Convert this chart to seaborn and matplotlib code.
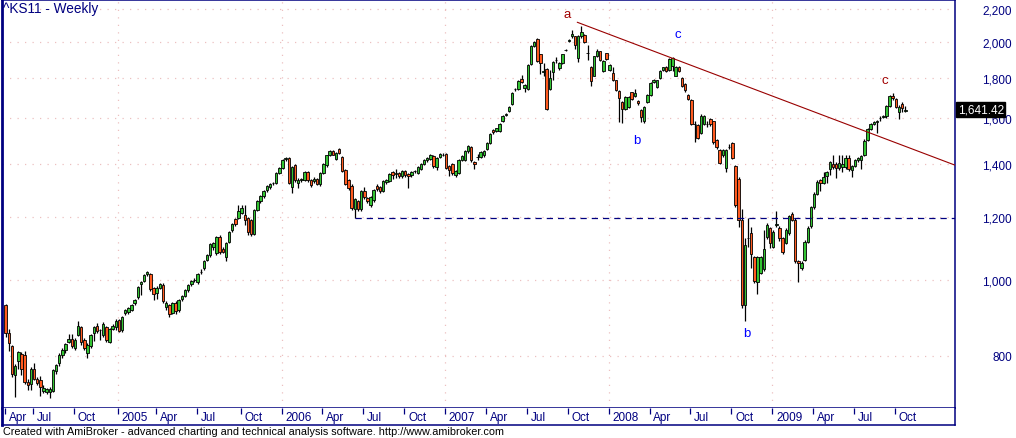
import numpy as np
import matplotlib
matplotlib.use("Agg")
import matplotlib.pyplot as plt
import matplotlib.transforms as mtransforms
from matplotlib.ticker import NullLocator, FixedLocator
import seaborn as sns

sns.set_theme(style="white")
plt.rcParams['font.family'] = ['Liberation Sans', 'DejaVu Sans']

# ---------------- weekly OHLC of ^KS11 (bar 0 = week ending 30 Apr 2004) ----------------
opens = [
    928, 855, 823, 757, 788, 805, 803, 741, 738, 770,
    748, 746, 722, 721, 721, 722, 765, 783, 803, 814,
    833, 840, 820, 851, 870, 838, 807, 824, 856, 874,
    864, 850, 870, 833, 866, 870, 888, 862, 906, 909,
    915, 933, 949, 986, 996, 1017, 1016, 975, 960, 976,
    985, 923, 928, 907, 934, 915, 944, 954, 969, 986,
    998, 992, 1021, 1033, 1059, 1073, 1100, 1079, 1131, 1094,
    1067, 1116, 1156, 1192, 1197, 1214, 1208, 1196, 1189, 1143,
    1226, 1256, 1275, 1297, 1309, 1324, 1326, 1364, 1384, 1420,
    1425, 1309, 1395, 1326, 1335, 1337, 1368, 1337, 1332, 1342,
    1320, 1364, 1395, 1436, 1453, 1423, 1462, 1429, 1378, 1337,
    1315, 1227, 1256, 1227, 1296, 1267, 1242, 1260, 1315, 1309,
    1294, 1328, 1332, 1367, 1359, 1364, 1351, 1372, 1361, 1358,
    1371, 1366, 1382, 1402, 1416, 1423, 1432, 1388, 1429, 1438,
    1441, 1393, 1400, 1355, 1364, 1416, 1418, 1453, 1472, 1408,
    1428, 1429, 1436, 1465, 1491, 1546, 1543, 1543, 1589, 1617,
    1637, 1668, 1741, 1745, 1795, 1750, 1745, 1876, 1978, 2016,
    1928, 1833, 1848, 1745, 1830, 1897, 1854, 1881, 1953, 2007,
    2032, 2032, 1909, 2032, 2038, 1936, 1859, 1813, 1917, 1945,
    1836, 1934, 1843, 1824, 1787, 1733, 1679, 1645, 1655, 1726,
    1707, 1684, 1640, 1589, 1679, 1712, 1779, 1754, 1802, 1840,
    1857, 1840, 1862, 1813, 1857, 1800, 1771, 1712, 1687, 1573,
    1569, 1535, 1576, 1572, 1599, 1586, 1502, 1458, 1436, 1384,
    1471, 1487, 1392, 1342, 1191, 929, 1128, 1145, 1067, 993,
    1020, 1032, 1131, 1161, 1101, 1173, 1163, 1128, 1113, 1145,
    1212, 1191, 1055, 1034, 1060, 1117, 1168, 1235, 1285, 1338,
    1325, 1352, 1380, 1400, 1400, 1383, 1387, 1387, 1424, 1377,
    1394, 1417, 1419, 1438, 1503, 1553, 1573, 1584, 1602, 1607,
    1610, 1658, 1707, 1691, 1632, 1671, 1633]

highs = [
    932, 865, 826, 781, 811, 810, 811, 747, 775, 784,
    752, 755, 735, 729, 730, 770, 781, 806, 818, 831,
    852, 852, 842, 886, 874, 842, 830, 853, 873, 880,
    866, 884, 873, 869, 877, 890, 892, 899, 918, 922,
    931, 944, 982, 997, 1016, 1025, 1020, 979, 980, 990,
    989, 938, 932, 937, 938, 946, 955, 972, 988, 999,
    1005, 1019, 1030, 1060, 1076, 1113, 1117, 1135, 1137, 1098,
    1117, 1153, 1179, 1196, 1242, 1242, 1242, 1200, 1193, 1230,
    1260, 1280, 1298, 1318, 1324, 1330, 1368, 1388, 1420, 1428,
    1428, 1392, 1400, 1345, 1346, 1372, 1372, 1342, 1348, 1346,
    1368, 1406, 1440, 1460, 1458, 1451, 1466, 1433, 1382, 1341,
    1320, 1268, 1260, 1300, 1309, 1272, 1275, 1303, 1320, 1313,
    1336, 1340, 1363, 1371, 1380, 1368, 1378, 1376, 1366, 1372,
    1378, 1392, 1406, 1422, 1429, 1443, 1436, 1429, 1447, 1446,
    1446, 1398, 1404, 1378, 1420, 1436, 1457, 1480, 1476, 1412,
    1442, 1454, 1457, 1494, 1532, 1550, 1558, 1578, 1616, 1626,
    1660, 1728, 1750, 1788, 1815, 1768, 1877, 1980, 2005, 2020,
    1933, 1880, 1852, 1840, 1889, 1912, 1885, 1932, 1960, 2016,
    2070, 2036, 2040, 2092, 2045, 1980, 1864, 1921, 1960, 1950,
    1898, 1938, 1875, 1857, 1792, 1738, 1684, 1706, 1706, 1730,
    1745, 1690, 1645, 1660, 1716, 1779, 1795, 1791, 1840, 1861,
    1862, 1907, 1913, 1864, 1862, 1805, 1776, 1718, 1692, 1590,
    1575, 1622, 1614, 1590, 1604, 1590, 1506, 1462, 1465, 1465,
    1486, 1492, 1397, 1347, 1227, 1130, 1197, 1165, 1072, 1072,
    1072, 1157, 1178, 1166, 1155, 1221, 1168, 1133, 1162, 1208,
    1218, 1196, 1058, 1054, 1122, 1168, 1240, 1290, 1336, 1342,
    1367, 1372, 1412, 1436, 1410, 1436, 1436, 1436, 1440, 1396,
    1421, 1430, 1440, 1505, 1558, 1578, 1588, 1592, 1612, 1614,
    1665, 1712, 1722, 1697, 1662, 1678, 1660]

lows = [
    846, 812, 752, 709, 770, 757, 737, 725, 724, 745,
    735, 712, 718, 716, 707, 720, 758, 778, 795, 808,
    830, 820, 815, 848, 825, 815, 795, 820, 837, 855,
    838, 846, 833, 830, 862, 864, 858, 858, 902, 905,
    911, 928, 946, 955, 992, 1010, 968, 941, 945, 972,
    933, 915, 897, 903, 905, 910, 940, 950, 965, 982,
    994, 988, 1017, 1028, 1054, 1069, 1090, 1074, 1078, 1080,
    1057, 1112, 1150, 1170, 1193, 1209, 1172, 1140, 1136, 1138,
    1222, 1250, 1270, 1290, 1304, 1318, 1322, 1360, 1380, 1414,
    1320, 1288, 1330, 1306, 1330, 1332, 1330, 1310, 1326, 1316,
    1315, 1360, 1390, 1432, 1436, 1418, 1442, 1370, 1318, 1300,
    1226, 1195, 1220, 1222, 1266, 1250, 1236, 1255, 1296, 1288,
    1290, 1322, 1328, 1340, 1345, 1345, 1346, 1348, 1306, 1350,
    1364, 1362, 1378, 1398, 1410, 1418, 1386, 1377, 1424, 1432,
    1380, 1351, 1358, 1350, 1360, 1412, 1414, 1448, 1410, 1382,
    1418, 1424, 1430, 1460, 1486, 1530, 1538, 1538, 1584, 1612,
    1632, 1662, 1734, 1738, 1772, 1730, 1740, 1870, 1970, 1888,
    1822, 1810, 1638, 1740, 1790, 1880, 1840, 1875, 1946, 2000,
    2025, 1960, 1888, 2025, 1995, 1898, 1759, 1808, 1912, 1892,
    1830, 1898, 1838, 1786, 1734, 1581, 1578, 1640, 1650, 1686,
    1702, 1665, 1585, 1580, 1674, 1706, 1774, 1748, 1797, 1835,
    1830, 1835, 1835, 1808, 1830, 1752, 1730, 1686, 1570, 1494,
    1505, 1530, 1570, 1560, 1566, 1486, 1464, 1400, 1430, 1368,
    1462, 1420, 1236, 1165, 920, 885, 1100, 1034, 990, 958,
    1015, 1026, 1126, 1095, 1095, 1165, 1120, 1078, 1108, 1140,
    1186, 1050, 992, 1028, 1055, 1112, 1163, 1230, 1280, 1295,
    1320, 1325, 1355, 1380, 1345, 1378, 1370, 1380, 1372, 1348,
    1388, 1410, 1382, 1433, 1498, 1548, 1568, 1534, 1590, 1600,
    1600, 1652, 1690, 1648, 1599, 1630, 1628]

closes = [
    855, 830, 760, 778, 809, 771, 741, 736, 770, 748,
    740, 730, 728, 726, 726, 767, 779, 803, 815, 828,
    841, 823, 838, 874, 833, 820, 826, 851, 870, 860,
    862, 878, 838, 866, 874, 887, 861, 896, 914, 919,
    928, 941, 979, 994, 1013, 1021, 973, 958, 976, 987,
    939, 934, 903, 934, 912, 943, 952, 969, 985, 996,
    1000, 1016, 1023, 1057, 1073, 1110, 1113, 1131, 1083, 1085,
    1113, 1149, 1175, 1175, 1221, 1231, 1191, 1148, 1141, 1226,
    1256, 1276, 1294, 1313, 1320, 1326, 1364, 1384, 1416, 1425,
    1326, 1388, 1335, 1337, 1341, 1368, 1335, 1319, 1342, 1322,
    1364, 1402, 1436, 1455, 1440, 1447, 1447, 1374, 1322, 1306,
    1232, 1263, 1227, 1296, 1271, 1256, 1271, 1299, 1302, 1294,
    1332, 1335, 1359, 1355, 1364, 1352, 1374, 1355, 1352, 1368,
    1373, 1388, 1402, 1418, 1425, 1439, 1392, 1425, 1443, 1440,
    1385, 1377, 1364, 1374, 1416, 1432, 1453, 1475, 1416, 1402,
    1430, 1450, 1453, 1490, 1528, 1536, 1554, 1574, 1612, 1619,
    1655, 1724, 1743, 1783, 1778, 1762, 1872, 1974, 1997, 1894,
    1881, 1835, 1643, 1800, 1885, 1899, 1880, 1928, 1955, 2009,
    2047, 1980, 2032, 2061, 2002, 1938, 1783, 1917, 1945, 1898,
    1894, 1903, 1870, 1791, 1740, 1700, 1643, 1702, 1702, 1691,
    1724, 1672, 1606, 1655, 1712, 1775, 1791, 1787, 1836, 1857,
    1836, 1903, 1909, 1860, 1836, 1759, 1736, 1691, 1576, 1575,
    1513, 1610, 1610, 1574, 1573, 1492, 1470, 1406, 1461, 1461,
    1473, 1425, 1242, 1188, 929, 1105, 1130, 1076, 997, 1067,
    1067, 1094, 1172, 1111, 1150, 1175, 1128, 1083, 1157, 1203,
    1191, 1055, 1050, 1049, 1117, 1163, 1235, 1284, 1330, 1327,
    1348, 1367, 1407, 1387, 1383, 1404, 1400, 1426, 1380, 1392,
    1417, 1425, 1435, 1500, 1553, 1573, 1583, 1586, 1604, 1609,
    1660, 1707, 1696, 1655, 1655, 1651, 1641.42]

# x-axis (bar index of first weekly bar of each labelled month)
month_ticks = [0, 9, 22, 36, 48, 61, 75, 88, 101, 114, 127, 140,
               153, 166, 179, 192, 205, 218, 231, 244, 257, 270, 283]
month_labels = ["Apr", "Jul", "Oct", "2005", "Apr", "Jul", "Oct", "2006",
                "Apr", "Jul", "Oct", "2007", "Apr", "Jul", "Oct", "2008",
                "Apr", "Jul", "Oct", "2009", "Apr", "Jul", "Oct"]
year_ticks = [36, 88, 140, 192, 244]
price_levels = [800, 1000, 1200, 1400, 1600, 1800, 2000, 2200]

# drawn studies
trend_x = [181.7, 301.8]
trend_y = [2118, 1396]
support_x = [111, 301.8]
support_y = [1198, 1198]
wave_text = ["a", "c", "b", "b", "c"]
wave_x = [178.5, 213.8, 200.7, 235.7, 279.6]
wave_y = [2168, 2045, 1502, 855, 1789]
wave_col = ["#a00000", "#0000ff", "#0000ff", "#0000ff", "#a00000"]

# ---------------- figure ----------------
W, H = 1016, 439
NAVY = "#000080"
UP, DOWN = "#33c433", "#ff5a1f"

n = min(len(opens), len(highs), len(lows), len(closes))
o = np.array(opens[:n], float)
h = np.array(highs[:n], float)
l = np.array(lows[:n], float)
c = np.array(closes[:n], float)
idx = np.arange(n)

fig = plt.figure(figsize=(W / 100, H / 100), dpi=100)
fig.patch.set_facecolor("white")
ax = fig.add_axes([2 / W, (H - 409) / H, 953 / W, 408 / H])
axd = fig.add_axes([2 / W, (H - 426) / H, 953 / W, 17 / H])

xl = (-1.18, 301.8)
ax.set_yscale("log")
ax.set_xlim(*xl)
ax.set_ylim(687.4, 2260)

# dotted grid
for p in price_levels:
    ax.axhline(p, color="#ecc0c0", lw=0.9, ls=(0, (1, 5)), zorder=0)
for t in year_ticks:
    ax.axvline(t - 0.3, color="#ecc0c0", lw=0.9, ls=(0, (1, 5)), zorder=0)

# candles
ax.vlines(idx, l, h, color="black", lw=0.9, zorder=2)
body_h = np.maximum(np.abs(c - o), 0.8)
colors = np.where(c >= o, UP, DOWN)
ax.bar(idx, body_h, bottom=np.minimum(o, c), width=0.78, color=colors,
       edgecolor="black", linewidth=0.6, zorder=3)

# trend line and support line
sns.lineplot(x=trend_x, y=trend_y, ax=ax, color="#990000", lw=0.8, zorder=4)
ax.plot(support_x, support_y, color=NAVY, lw=0.9, ls=(0, (5, 4)), zorder=4)

for s, x, y, col in zip(wave_text, wave_x, wave_y, wave_col):
    ax.text(x, y, s, color=col, fontsize=9.5, ha="center", va="center", zorder=5)

# y axis on right
ax.set_xticks([])
ax.yaxis.tick_right()
ax.yaxis.set_major_locator(FixedLocator(price_levels))
ax.yaxis.set_minor_locator(NullLocator())
ax.set_yticklabels([f"{p:,}" for p in price_levels])
ax.tick_params(axis="y", length=0, pad=41, labelsize=8.5, labelcolor=NAVY)
for t in ax.get_yticklabels():
    t.set_horizontalalignment("right")

# last price box
trans = mtransforms.blended_transform_factory(ax.transAxes, ax.transData)
ax.text(1.003, c[-1], f"{c[-1]:,.2f}", transform=trans, ha="left", va="center",
        color="white", fontsize=8.5, zorder=10, clip_on=False,
        bbox=dict(boxstyle="square,pad=0.12", fc="black", ec="black"))

for sp in ax.spines.values():
    sp.set_color(NAVY)
    sp.set_linewidth(1.1)
ax.spines["left"].set_linewidth(2.0)

# date strip
axd.set_xlim(*xl)
axd.set_ylim(0, 1)
axd.set_xticks([])
axd.set_yticks([])
axd.set_facecolor("white")
for sp in axd.spines.values():
    sp.set_color(NAVY)
    sp.set_linewidth(1.1)
axd.spines["left"].set_linewidth(2.0)
axd.spines["top"].set_visible(False)
for t, lab in zip(month_ticks, month_labels):
    axd.vlines(t - 0.3, 0.62, 1.0, color=NAVY, lw=0.9)
    axd.text(t + 0.9, 0.45, lab, ha="left", va="center", fontsize=8.5, color=NAVY)

fig.text(3 / W, 1 - 2 / H, "^KS11 - Weekly", ha="left", va="top",
         fontsize=9.8, color=NAVY)
fig.text(3 / W, (H - 432) / H,
         "Created with AmiBroker - advanced charting and technical analysis software. http://www.amibroker.com",
         ha="left", va="center", fontsize=7.8, color="black")

fig.savefig("out.png", dpi=100, facecolor="white")
